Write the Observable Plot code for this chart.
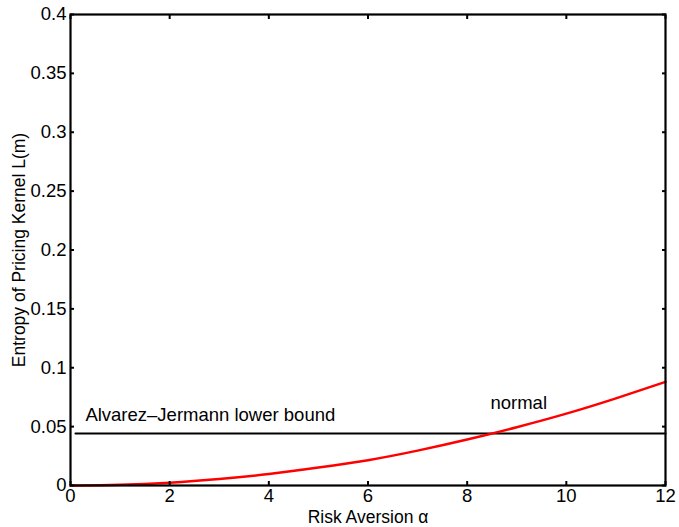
<!DOCTYPE html>
<html>
<head>
<meta charset="utf-8">
<script src="https://cdn.jsdelivr.net/npm/d3@7"></script>
<script src="https://cdn.jsdelivr.net/npm/@observablehq/plot@0.6"></script>
<style>
  html, body { margin: 0; padding: 0; background: #fff; }
  svg { font-family: "Liberation Sans", Arial, sans-serif; }
</style>
</head>
<body>
<div id="chart"></div>
<script>
const alpha = [0, 1, 2, 3, 4, 5, 6, 7, 8, 9, 10, 11, 12];
const entropyNormal = [0, 0.0006, 0.0024, 0.0055, 0.0097, 0.0152, 0.0215, 0.0296, 0.0390, 0.0495, 0.0610, 0.0740, 0.0880];
const boundValue = 0.0442;
const boundStart = 0.1;
const xTicks = [0, 2, 4, 6, 8, 10, 12];
const yTicks = [0, 0.05, 0.1, 0.15, 0.2, 0.25, 0.3, 0.35, 0.4];
const yTickLabels = ["0", "0.05", "0.1", "0.15", "0.2", "0.25", "0.3", "0.35", "0.4"];
const labels = [
  {x: 0.3, y: 0.0595, text: "Alvarez\u2013Jermann lower bound"},
  {x: 8.47, y: 0.0696, text: "normal"}
];

const curve = alpha.map((a, i) => ({a, v: entropyNormal[i]}));
const bound = [{a: boundStart, v: boundValue}, {a: 12, v: boundValue}];
const FS = 18.5;
const TFS = 17.5;

const chart = Plot.plot({
  width: 679,
  height: 527,
  marginLeft: 70,
  marginRight: 14,
  marginTop: 14,
  marginBottom: 42,
  style: {fontSize: FS + "px", fontFamily: "Liberation Sans, Arial, sans-serif", color: "#000"},
  x: {domain: [0, 12]},
  y: {domain: [0, 0.4]},
  marks: [
    Plot.line(bound, {x: "a", y: "v", stroke: "#000", strokeWidth: 2}),
    Plot.line(curve, {x: "a", y: "v", stroke: "#ff0000", strokeWidth: 2.5, curve: "natural"}),
    Plot.text(labels, {x: "x", y: "y", text: "text", textAnchor: "start", fontSize: FS, fill: "#000"}),
    Plot.axisX({ticks: xTicks, tickSize: -4, tickPadding: 7, strokeWidth: 2, label: null, fontSize: FS}),
    Plot.axisX({anchor: "top", ticks: xTicks, tickSize: -4, strokeWidth: 2, tickFormat: () => "", label: null}),
    Plot.axisY({ticks: yTicks, tickSize: -4, tickPadding: 8, strokeWidth: 2, tickFormat: (d, i) => yTickLabels[i], label: null, fontSize: FS}),
    Plot.axisY({anchor: "right", ticks: yTicks, tickSize: -4, strokeWidth: 2, tickFormat: () => "", label: null}),
    Plot.frame({stroke: "#000", strokeWidth: 2.2}),
    Plot.text(["Risk Aversion \u03b1"], {frameAnchor: "bottom", lineAnchor: "middle", textAnchor: "middle", dy: 32, fontSize: TFS, fill: "#000"}),
    Plot.text(["Entropy of Pricing Kernel L(m)"], {frameAnchor: "left", textAnchor: "middle", lineAnchor: "middle", dx: -51, rotate: -90, fontSize: TFS, fill: "#000"})
  ]
});
document.getElementById("chart").appendChild(chart);
</script>
</body>
</html>
